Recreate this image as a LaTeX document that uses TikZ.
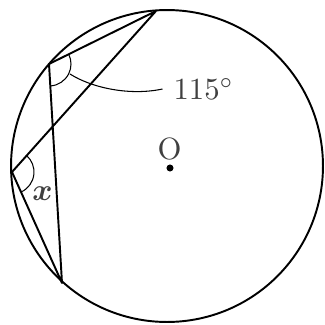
\documentclass[tikz,border=0pt]{standalone}
\usepackage{amsmath}
\usetikzlibrary{angles,calc}

\begin{document}
\begin{tikzpicture}[x=0.02cm,y=-0.02cm,line join=round]
\useasboundingbox (0,0) rectangle (325,325);
\coordinate (ctr_o) at (167,166);
\coordinate (pt_a) at (156,11);
\coordinate (pt_b) at (49,64);
\coordinate (pt_c) at (12,172);
\coordinate (pt_d) at (62,283);
\draw[line width=1.1pt] (ctr_o) circle[radius=3.12cm];
\draw[line width=1.1pt] (pt_a)--(pt_b)--(pt_d)--(pt_c)--cycle;
\pic[draw,line width=0.6pt,angle radius=0.44cm] {angle=pt_d--pt_b--pt_a};
\pic[draw,line width=0.6pt,angle radius=0.44cm] {angle=pt_d--pt_c--pt_a};
\fill (170,168) circle[radius=2pt];
\node[scale=1.75,text=black!75,inner sep=0pt] (lbl_o) at (169.5,149) {O};
\node[scale=1.75,text=black!75,inner sep=0pt,anchor=west] (lbl_ang) at (173,89) {$115^{\circ}$};
\coordinate (lead_s) at (70,74);
\draw[line width=0.6pt] (lead_s) .. controls (92,88) and (130,96) .. ([xshift=-6pt]lbl_ang.west);
\node[scale=1.75,text=black!75,inner sep=0pt] (lbl_x) at (42.5,193.5) {$\boldsymbol{x}$};
\end{tikzpicture}
\end{document}
